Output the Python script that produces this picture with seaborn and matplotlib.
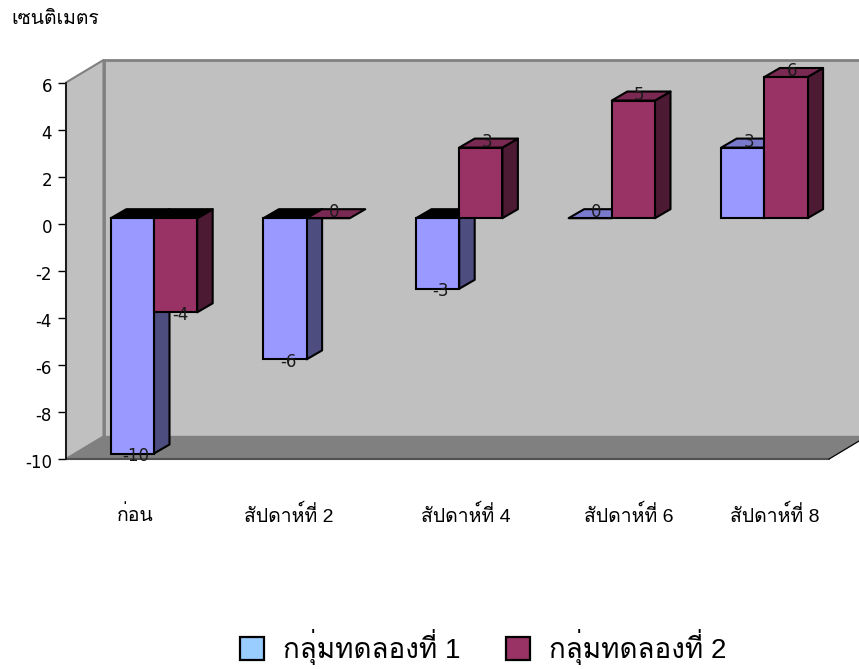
import matplotlib
matplotlib.use("Agg")
import matplotlib.pyplot as plt
from matplotlib.patches import Patch, Polygon
from matplotlib.transforms import Affine2D, ScaledTranslation
import numpy as np
import pandas as pd
import seaborn as sns

periods = ["ก่อน", "สัปดาห์ที่ 2", "สัปดาห์ที่ 4", "สัปดาห์ที่ 6", "สัปดาห์ที่ 8"]
group_names = ["กลุ่มทดลองที่ 1", "กลุ่มทดลองที่ 2"]
group_1 = [-10, -6, -3, 0, 3]
group_2 = [-4, 0, 3, 5, 6]
y_title = "เซนติเมตร"

# Shading of each series: front, side and top faces, plus the legend swatch
front_colors = ["#9999FF", "#993366"]
side_colors = ["#4D4D80", "#4D1A33"]
top_colors = ["#7A7ACC", "#7A2952"]
swatch_colors = ["#99CCFF", "#993366"]

FIG_W, FIG_H, DPI = 859, 669, 100
WALL_DEPTH = np.array([37.5, 22.5])
BAR_SHIFT = np.array([11.7, 5.5])
BAR_DEPTH = np.array([15.5, 9.0])
label_nudges = [-7, -6, 18, 29, 22]
NUMBER_FONT = "DejaVu Sans"

sns.set_theme(style="white")
plt.rcParams["font.family"] = ["Liberation Sans", "Loma"]
plt.rcParams["axes.unicode_minus"] = False

table = pd.DataFrame({
    "period": periods * 2,
    "group": [group_names[0]] * 5 + [group_names[1]] * 5,
    "cm": group_1 + group_2,
})

fig = plt.figure(figsize=(FIG_W / DPI, FIG_H / DPI), dpi=DPI)
ax = fig.add_axes([66 / FIG_W, (FIG_H - 459) / FIG_H, 763 / FIG_W, 376.5 / FIG_H])
ax.patch.set_visible(False)

sns.barplot(
    data=table, x="period", y="cm", hue="group", order=periods, hue_order=group_names,
    palette=dict(zip(group_names, front_colors)), saturation=1, width=0.566, gap=0,
    edgecolor="black", linewidth=1.5, errorbar=None, legend=False, ax=ax,
)
ax.set_ylim(-10, 6)
ax.set_xlim(-0.5, 4.5)


def axes_px(x, y):
    return ax.transAxes.transform((x, y))


def draw_face(points, color, zorder, edge="black", lw=1.5):
    ax.add_patch(Polygon(points, closed=True, facecolor=color, edgecolor=edge, linewidth=lw,
                         transform=None, clip_on=False, zorder=zorder, joinstyle="round"))


# Box of the plot: left wall, floor and back wall in grey
fig.canvas.draw()
ax_points = {k: axes_px(*v) for k, v in {"bl": (0, 0), "br": (1, 0), "tl": (0, 1), "tr": (1, 1)}.items()}
back = {k: p + WALL_DEPTH for k, p in ax_points.items()}
draw_face([back["bl"], back["br"], back["tr"], back["tl"]], "#C0C0C0", 0.5, "#808080", 2.0)
draw_face([ax_points["bl"], back["bl"], back["tl"], ax_points["tl"]], "#C0C0C0", 0.6, "#808080", 1.5)
draw_face([ax_points["bl"], ax_points["br"], back["br"], back["bl"]], "#808080", 0.7, "#808080", 1.0)
ax.plot(*np.array([ax_points["bl"], ax_points["br"]]).T, color="#505050", lw=1.5, transform=None,
        clip_on=False, zorder=0.8)
ax.plot(*np.array([ax_points["br"], back["br"]]).T, color="black", lw=0.8, transform=None,
        clip_on=False, zorder=0.8)

# Bars: seaborn's rectangles become front faces, then side and top faces are added
shift = Affine2D().translate(*BAR_SHIFT)
for h, container in enumerate(ax.containers):
    base_z = 3 + h
    for bar in container:
        bar.set_transform(ax.transData + shift)
        bar.set_clip_on(False)
        bar.set_zorder(base_z + 0.5)
        bar.set_joinstyle("miter")
        x0, x1 = bar.get_x(), bar.get_x() + bar.get_width()
        value = int(round(bar.get_y() + bar.get_height()))
        crest = max(value, 0)
        lt = ax.transData.transform((x0, crest)) + BAR_SHIFT
        rt = ax.transData.transform((x1, crest)) + BAR_SHIFT
        top_color = "black" if value < 0 else top_colors[h]
        draw_face([lt, rt, rt + BAR_DEPTH, lt + BAR_DEPTH], top_color, base_z + 0.2)
        if value != 0:
            r0 = ax.transData.transform((x1, 0)) + BAR_SHIFT
            rv = ax.transData.transform((x1, value)) + BAR_SHIFT
            draw_face([r0, rv, rv + BAR_DEPTH, r0 + BAR_DEPTH], side_colors[h], base_z + 0.1)

        # Value label, set beside the bar's end
        dy = 6 if value >= 0 else -2.5
        dx = 6 if value >= 0 else 3 + h * 1.5
        ax.annotate(str(value), ((x0 + x1) / 2, value),
                    xytext=((BAR_SHIFT[0] + dx) * 72 / DPI, (BAR_SHIFT[1] + dy) * 72 / DPI),
                    textcoords="offset points", ha="center", va="center", fontsize=12,
                    family=NUMBER_FONT, color="#1A1A1A", zorder=9, annotation_clip=False)

# Axis furniture
ax.spines[["top", "right", "bottom"]].set_visible(False)
ax.spines["left"].set_visible(True)
ax.spines["left"].set_color("black")
ax.spines["left"].set_linewidth(1.1)
ax.spines["left"].set_zorder(1)
ax.set_yticks(np.arange(-10, 7, 2))
ax.tick_params(axis="y", left=True, length=5.8, width=1.0, color="black", pad=4.3, labelcolor="black")
label_drop = ScaledTranslation(0, -2 / DPI, fig.dpi_scale_trans)
for tick_label in ax.get_yticklabels():
    tick_label.set_family(NUMBER_FONT)
    tick_label.set_fontsize(12)
    tick_label.set_transform(tick_label.get_transform() + label_drop)
ax.set_xticks([])
ax.set_xlabel("")
ax.set_ylabel("")

# Category names sit on a common line below the floor
for i, (name, nudge) in enumerate(zip(periods, label_nudges)):
    ax.annotate(name, (i, 0), xycoords=ax.get_xaxis_transform(), xytext=(nudge * 72 / DPI, -56 * 72 / DPI),
                textcoords="offset points", ha="center", va="center", fontsize=14, color="black",
                annotation_clip=False)

fig.text(11 / FIG_W, 1 - 20 / FIG_H, y_title, ha="left", va="center", fontsize=14, color="black")

handles = [Patch(facecolor=c, edgecolor="black", linewidth=1.6) for c in swatch_colors]
fig.legend(handles, group_names, loc="center", bbox_to_anchor=(483 / FIG_W, 1 - 647 / FIG_H), ncol=2,
           frameon=False, fontsize=20, handlelength=0.86, handleheight=0.86, handletextpad=0.68,
           columnspacing=1.65, borderpad=0, labelcolor="black")

fig.savefig("out.png", dpi=DPI, facecolor="white")
